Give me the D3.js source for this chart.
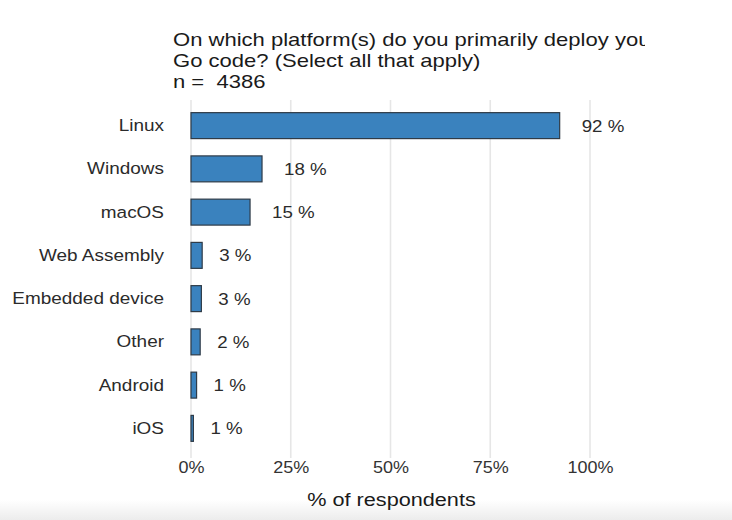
<!DOCTYPE html>
<html>
<head>
<meta charset="utf-8">
<script src="https://cdn.jsdelivr.net/npm/d3@7"></script>
<style>
  html, body { margin: 0; padding: 0; background: #fff; }
  svg { display: block; font-family: "Liberation Sans", Arial, sans-serif; }
  text { white-space: pre; }
</style>
</head>
<body>
<div id="chart"></div>
<script>

var categories = ["Linux", "Windows", "macOS", "Web Assembly", "Embedded device", "Other", "Android", "iOS"];
var shares = [92.4, 17.8, 14.8, 2.8, 2.6, 2.3, 1.4, 0.6];
var shareLabels = ["92 %", "18 %", "15 %", "3 %", "3 %", "2 %", "1 %", "1 %"];
var xTicks = [0, 25, 50, 75, 100];
var titleLines = ["On which platform(s) do you primarily deploy your", "Go code? (Select all that apply)", "n =  4386"];

var width = 732,
    height = 520,
    plotLeft = 191,
    plotRight = 590,
    plotTop = 104,
    plotBottom = 450,
    stretch = 1.115;   // the text in the original is drawn a bit wide

var svg = d3.select("#chart").append("svg")
    .attr("width", width)
    .attr("height", height);

var defs = svg.append("defs");

var fade = defs.append("linearGradient")
    .attr("id", "fade")
    .attr("x1", 0).attr("y1", 0).attr("x2", 0).attr("y2", 1);
fade.append("stop").attr("offset", "0%").attr("stop-color", "#fff");
fade.append("stop").attr("offset", "100%").attr("stop-color", "#ececec");

defs.append("clipPath")
    .attr("id", "titleClip")
    .append("rect")
    .attr("x", 0).attr("y", 0)
    .attr("width", 645).attr("height", 100);

svg.append("rect")
    .attr("x", 0).attr("y", 500)
    .attr("width", width).attr("height", 20)
    .attr("fill", "url(#fade)");

var x = d3.scaleLinear()
    .domain([0, 100])
    .range([plotLeft, plotRight]);

var y = d3.scaleBand()
    .domain(categories)
    .range([plotTop, plotBottom])
    .paddingInner(0.4)
    .paddingOuter(0.2);

// puts a text at (px,py) and widens it
function place(sel, px, py, s) {
    sel.attr("x", 0).attr("y", 0)
        .attr("transform", function(d, i) {
            var a = typeof px === "function" ? px(d, i) : px,
                b = typeof py === "function" ? py(d, i) : py;
            return "translate(" + a + "," + b + ") scale(" + (s || stretch) + ",1)";
        });
}

// grid
svg.append("g")
    .selectAll("line")
    .data(xTicks)
    .enter().append("line")
    .attr("x1", function(d) { return x(d); })
    .attr("x2", function(d) { return x(d); })
    .attr("y1", 100)
    .attr("y2", 458)
    .attr("stroke", "#e6e6e6")
    .attr("stroke-width", 1.6);

// x axis labels
var xAxis = d3.axisBottom(x)
    .tickValues(xTicks)
    .tickSize(0)
    .tickPadding(0)
    .tickFormat(function(d) { return d + "%"; });

var gx = svg.append("g")
    .attr("transform", "translate(0,461)")
    .call(xAxis);
gx.select(".domain").remove();
gx.selectAll("text")
    .attr("dy", "0.71em")
    .attr("font-size", 17)
    .attr("font-family", "Liberation Sans, Arial, sans-serif")
    .attr("fill", "#333")
    .call(place, 0, 0, 1.06);

// y axis labels
var yAxis = d3.axisLeft(y)
    .tickSize(0)
    .tickPadding(27);

var gy = svg.append("g")
    .attr("transform", "translate(" + plotLeft + ",0)")
    .call(yAxis);
gy.select(".domain").remove();
gy.selectAll("text")
    .attr("font-size", 17)
    .attr("font-family", "Liberation Sans, Arial, sans-serif")
    .attr("fill", "#2b2b2b")
    .call(place, -27, 0);

// bars
var rows = svg.append("g")
    .selectAll("g")
    .data(categories)
    .enter().append("g");

rows.append("rect")
    .attr("x", x(0))
    .attr("y", function(d) { return y(d); })
    .attr("width", function(d, i) { return x(shares[i]) - x(0); })
    .attr("height", y.bandwidth())
    .attr("fill", "#3a82be")
    .attr("stroke", "#2f3b47")
    .attr("stroke-width", 1.2);

rows.append("text")
    .attr("dy", "0.35em")
    .attr("font-size", 17)
    .attr("fill", "#2b2b2b")
    .text(function(d, i) { return shareLabels[i]; })
    .call(place,
        function(d, i) { return x(shares[i]) + (shares[i] > 10 ? 22 : 17); },
        function(d) { return y(d) + y.bandwidth() / 2; },
        1.1);

// title
var title = svg.append("g")
    .attr("clip-path", "url(#titleClip)");

title.selectAll("text")
    .data(titleLines)
    .enter().append("text")
    .attr("font-size", 19)
    .attr("fill", "#1a1a1a")
    .text(function(d) { return d; })
    .call(place, 173, function(d, i) { return [46, 67, 88][i]; }, 1.16);

// axis title
svg.append("text")
    .attr("text-anchor", "middle")
    .attr("font-size", 19)
    .attr("fill", "#1a1a1a")
    .text("% of respondents")
    .call(place, x(50) + 1, 506, 1.14);

</script>
</body>
</html>
